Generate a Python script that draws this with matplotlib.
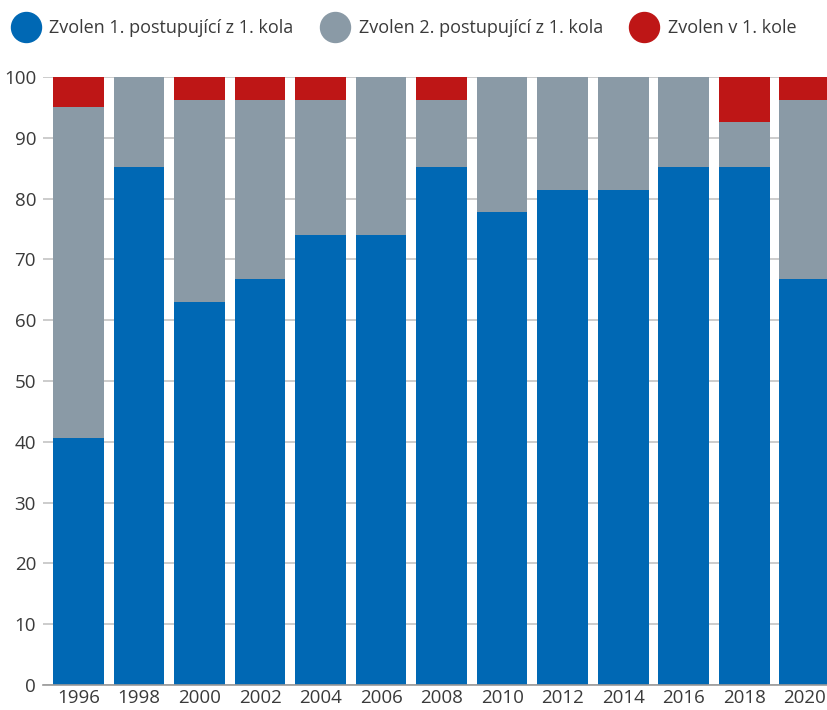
import numpy as np
import matplotlib.pyplot as plt
from matplotlib.lines import Line2D

years = ["1996", "1998", "2000", "2002", "2004", "2006", "2008",
         "2010", "2012", "2014", "2016", "2018", "2020"]
first_adv = [40.7, 85.2, 63.0, 66.7, 74.1, 74.1, 85.2, 77.8, 81.5, 81.5, 85.2, 85.2, 66.7]
second_adv = [54.4, 14.8, 33.3, 29.6, 22.2, 25.9, 11.1, 22.2, 18.5, 18.5, 14.8, 7.4, 29.6]
first_round = [4.9, 0.0, 3.7, 3.7, 3.7, 0.0, 3.7, 0.0, 0.0, 0.0, 0.0, 7.4, 3.7]

labels = ["Zvolen 1. postupující z 1. kola", "Zvolen 2. postupující z 1. kola", "Zvolen v 1. kole"]
colors = ["#0068b4", "#8a9aa6", "#be1616"]

plt.rcParams["font.family"] = ["Open Sans", "DejaVu Sans"]

fig = plt.figure(figsize=(8.27, 7.10), dpi=100)
ax = fig.add_axes([0.052, 0.0352, 0.948, 0.8563])

x = np.arange(len(years))
w = 0.84
ax.bar(x, first_adv, w, color=colors[0], zorder=2)
ax.bar(x, second_adv, w, bottom=first_adv, color=colors[1], zorder=2)
bottom2 = np.array(first_adv) + np.array(second_adv)
ax.bar(x, first_round, w, bottom=bottom2, color=colors[2], zorder=2)

ax.set_xlim(-0.587, 12.37)
ax.set_ylim(0, 100)
ax.set_yticks(range(0, 101, 10))
ax.set_xticks(x)
ax.set_xticklabels(years)
ax.yaxis.grid(True, color="#c4c4c4", linewidth=1.2, zorder=0)
ax.set_axisbelow(True)
for s in ["top", "right", "left"]:
    ax.spines[s].set_visible(False)
ax.spines["bottom"].set_color("#999999")
ax.spines["bottom"].set_linewidth(1.2)
ax.tick_params(length=0, labelsize=13.5, colors="#3a3a3a", pad=3)
ax.tick_params(axis="y", pad=5)

handles = [Line2D([], [], marker="o", linestyle="", markersize=21.6,
                  markerfacecolor=c, markeredgecolor=c) for c in colors]
fig.legend(handles, labels, loc="upper left", bbox_to_anchor=(-0.009, 0.998),
           ncol=3, frameon=False, fontsize=13.0, labelcolor="#3a3a3a",
           handlelength=1.7, handletextpad=0.45, columnspacing=1.45,
           borderaxespad=0.6)

fig.savefig("out.png", dpi=100)
